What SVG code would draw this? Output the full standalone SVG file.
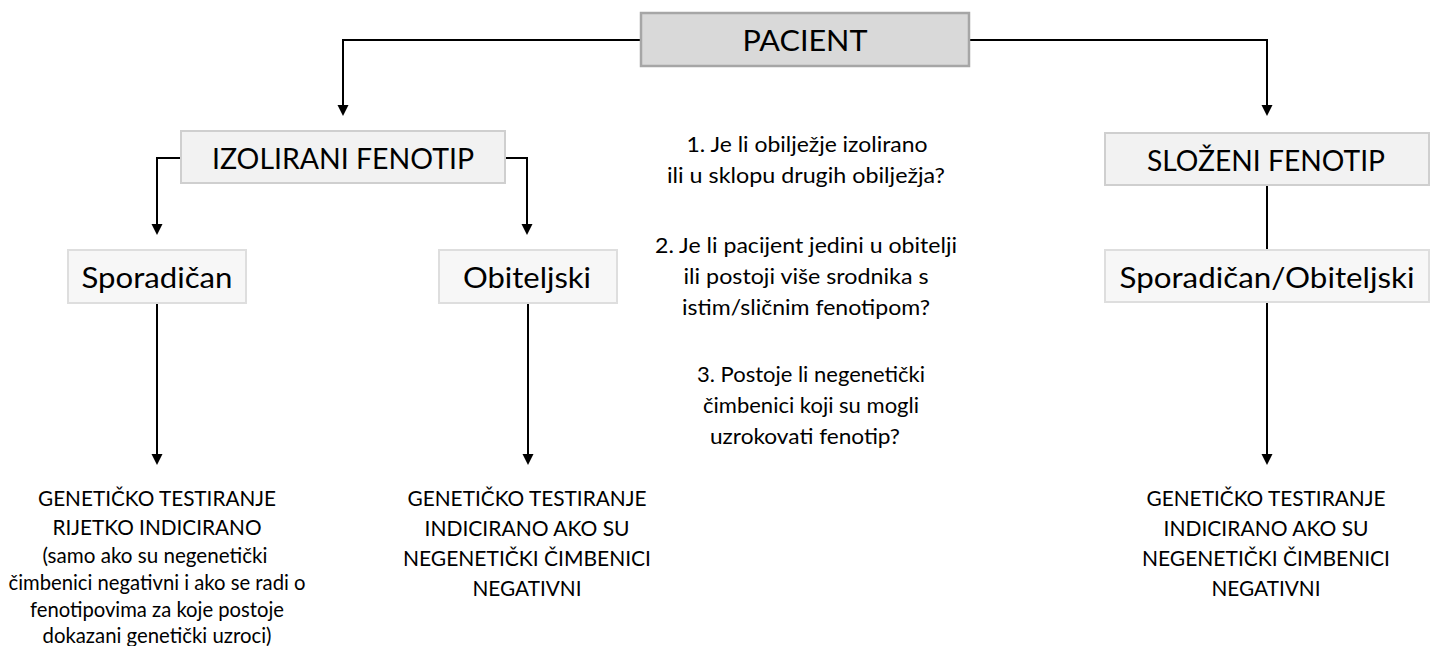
<svg xmlns="http://www.w3.org/2000/svg" width="1435" height="646" viewBox="0 0 1435 646">
<defs>
<marker id="arr" markerUnits="userSpaceOnUse" markerWidth="12" markerHeight="12" viewBox="0 0 12 12" refX="3" refY="5.5" orient="auto">
<path d="M0,0 L11,5.5 L0,11 z" fill="#000"/>
</marker>
<style>
.t{font-family:Lato,"Open Sans","Liberation Sans",sans-serif;fill:#000;text-anchor:middle}
.n{font-size:28px}
.s{font-size:21px}
.q{font-size:21px}
.c{fill:none;stroke:#000;stroke-width:2}
.a{marker-end:url(#arr)}
.b1{fill:#d9d9d9;stroke:#a6a6a6;stroke-width:2.5}
.b2{fill:#f2f2f2;stroke:#cfcfcf;stroke-width:2}
.b3{fill:#f7f7f7;stroke:#dedede;stroke-width:2}
</style>
</defs>
<rect width="1435" height="646" fill="#fff"/>
<g id="connectors">
<path class="c a" d="M641,40 H343 V108"/>
<path class="c a" d="M969,40 H1267 V108"/>
<path class="c a" d="M181,158 H157 V227"/>
<path class="c a" d="M505,158 H527 V227"/>
<path class="c a" d="M157,303 V457"/>
<path class="c a" d="M528,303 V457"/>
<path class="c" d="M1267,185 V250"/>
<path class="c a" d="M1267,302 V457"/>
</g>
<g id="pacijent">
<rect class="b1" x="641" y="13" width="328" height="53"/>
<text class="t n" x="805" y="51" textLength="125" lengthAdjust="spacingAndGlyphs">PACIENT</text>
</g>
<g id="izolirani">
<rect class="b2" x="181" y="131" width="324" height="52"/>
<text class="t n" x="343" y="169" textLength="262" lengthAdjust="spacingAndGlyphs">IZOLIRANI FENOTIP</text>
</g>
<g id="slozeni">
<rect class="b2" x="1105" y="133" width="324" height="52"/>
<text class="t n" x="1266" y="171" textLength="238" lengthAdjust="spacingAndGlyphs">SLOŽENI FENOTIP</text>
</g>
<g id="sporadican">
<rect class="b3" x="68" y="250" width="178" height="53"/>
<text class="t n" x="157" y="288" textLength="151" lengthAdjust="spacingAndGlyphs">Sporadičan</text>
</g>
<g id="obiteljski">
<rect class="b3" x="439" y="250" width="178" height="53"/>
<text class="t n" x="527" y="288" textLength="128" lengthAdjust="spacingAndGlyphs">Obiteljski</text>
</g>
<g id="sporadican-obiteljski">
<rect class="b3" x="1105" y="250" width="324" height="52"/>
<text class="t n" x="1267" y="288" textLength="295" lengthAdjust="spacingAndGlyphs">Sporadičan/Obiteljski</text>
</g>
<g id="pitanja">
<text class="t q" x="807" y="152" textLength="241" lengthAdjust="spacingAndGlyphs">1. Je li obilježje izolirano</text>
<text class="t q" x="806" y="183" textLength="278" lengthAdjust="spacingAndGlyphs">ili u sklopu drugih obilježja?</text>
<text class="t q" x="806" y="253" textLength="302" lengthAdjust="spacingAndGlyphs">2. Je li pacijent jedini u obitelji</text>
<text class="t q" x="806" y="284" textLength="245" lengthAdjust="spacingAndGlyphs">ili postoji više srodnika s</text>
<text class="t q" x="806" y="315" textLength="248" lengthAdjust="spacingAndGlyphs">istim/sličnim fenotipom?</text>
<text class="t q" x="811" y="382" textLength="228" lengthAdjust="spacingAndGlyphs">3. Postoje li negenetički</text>
<text class="t q" x="811" y="413" textLength="216" lengthAdjust="spacingAndGlyphs">čimbenici koji su mogli</text>
<text class="t q" x="805" y="444" textLength="190" lengthAdjust="spacingAndGlyphs">uzrokovati fenotip?</text>
</g>
<g id="rezultat-sporadican">
<text class="t s" x="157" y="506" textLength="238" lengthAdjust="spacingAndGlyphs">GENETIČKO TESTIRANJE</text>
<text class="t s" x="157" y="535" textLength="209" lengthAdjust="spacingAndGlyphs">RIJETKO INDICIRANO</text>
<text class="t s" x="155" y="563" textLength="225" lengthAdjust="spacingAndGlyphs">(samo ako su negenetički</text>
<text class="t s" x="157" y="590" textLength="297" lengthAdjust="spacingAndGlyphs">čimbenici negativni i ako se radi o</text>
<text class="t s" x="157" y="617" textLength="254" lengthAdjust="spacingAndGlyphs">fenotipovima za koje postoje</text>
<text class="t s" x="157" y="643" textLength="229" lengthAdjust="spacingAndGlyphs">dokazani genetički uzroci)</text>
</g>
<g id="rezultat-obiteljski">
<text class="t s" x="527" y="506" textLength="239" lengthAdjust="spacingAndGlyphs">GENETIČKO TESTIRANJE</text>
<text class="t s" x="527" y="536" textLength="205" lengthAdjust="spacingAndGlyphs">INDICIRANO AKO SU</text>
<text class="t s" x="527" y="566" textLength="248" lengthAdjust="spacingAndGlyphs">NEGENETIČKI ČIMBENICI</text>
<text class="t s" x="527" y="596" textLength="109" lengthAdjust="spacingAndGlyphs">NEGATIVNI</text>
</g>
<g id="rezultat-slozeni">
<text class="t s" x="1266" y="506" textLength="239" lengthAdjust="spacingAndGlyphs">GENETIČKO TESTIRANJE</text>
<text class="t s" x="1266" y="536" textLength="205" lengthAdjust="spacingAndGlyphs">INDICIRANO AKO SU</text>
<text class="t s" x="1266" y="566" textLength="248" lengthAdjust="spacingAndGlyphs">NEGENETIČKI ČIMBENICI</text>
<text class="t s" x="1266" y="596" textLength="109" lengthAdjust="spacingAndGlyphs">NEGATIVNI</text>
</g>
</svg>
